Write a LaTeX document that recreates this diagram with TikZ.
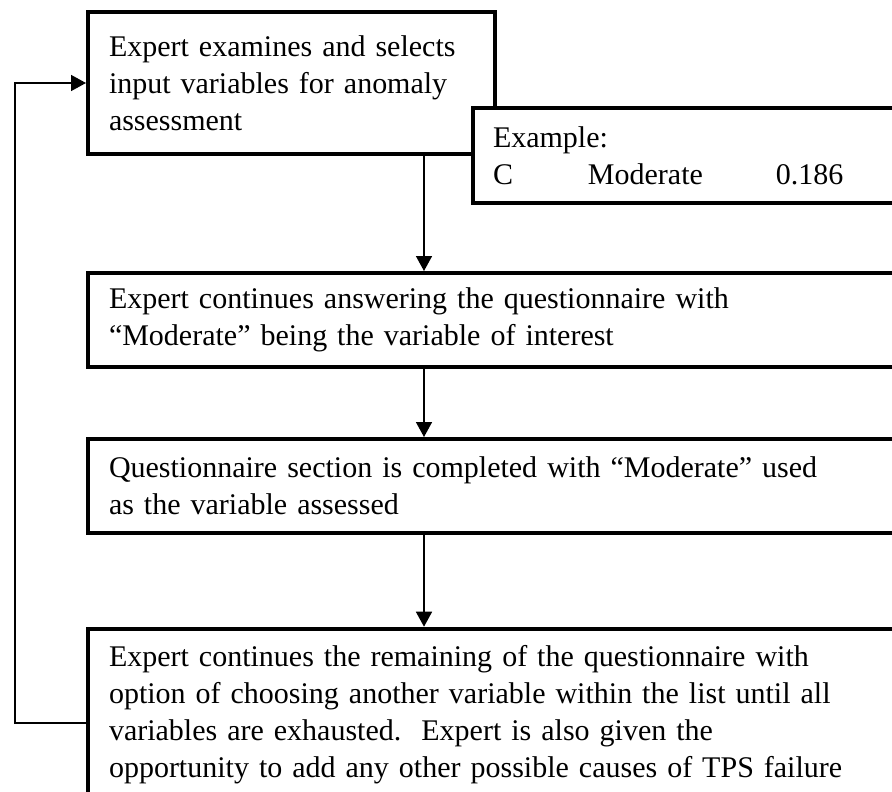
\documentclass[tikz,border=0pt]{standalone}
\usepackage{fontspec}
\setmainfont{Liberation Serif}
\usetikzlibrary{arrows.meta}
\begin{document}
\begin{tikzpicture}[x=1pt, y=-1pt,
        box/.style={draw, line width=4pt, fill=white, anchor=north west, inner xsep=21pt, inner ysep=0pt, align=left, font=\fontsize{30}{37}\selectfont},
        flow/.style={-{Triangle[length=15pt, width=16pt]}, line width=1.6pt}]
        \useasboundingbox (0,0) rectangle (892,792);
        \clip (0,0) rectangle (892,792);

        \node[box, minimum width=407pt, minimum height=142pt, text width=365pt] (select) at (86,10) {Expert examines and selects\\input variables for anomaly\\assessment};
        \node[box, minimum width=460pt, minimum height=95pt, text width=420pt, inner xsep=20pt] (example) at (471,106) {Example:\\\makebox[95pt][l]{C}\makebox[188pt][l]{Moderate}0.186};

        \node[box, minimum width=860pt, minimum height=93.5pt, text width=818pt] (answer) at (86,271) {Expert continues answering the questionnaire with\\“Moderate” being the variable of interest};
        \node[box, minimum width=860pt, minimum height=94pt, text width=818pt] (complete) at (86,437) {Questionnaire section is completed with “Moderate” used\\as the variable assessed};
        \node[box, minimum width=860pt, minimum height=172.6pt, text width=818pt] (remain) at (86,626.7) {Expert continues the remaining of the questionnaire with\\option of choosing another variable within the list until all\\variables are exhausted.\ \ Expert is also given the\\opportunity to add any other possible causes of TPS failure};

        \coordinate (spine) at (424,0);

        \draw[flow] (select.south -| spine) -- (answer.north -| spine);
        \draw[flow] (answer.south -| spine) -- (complete.north -| spine);
        \draw[flow] (complete.south -| spine) -- (remain.north -| spine);

        \draw[flow] ([yshift=-8pt]remain.west) -- ++(-71,0) |- (select.west);

    \end{tikzpicture}
\end{document}
